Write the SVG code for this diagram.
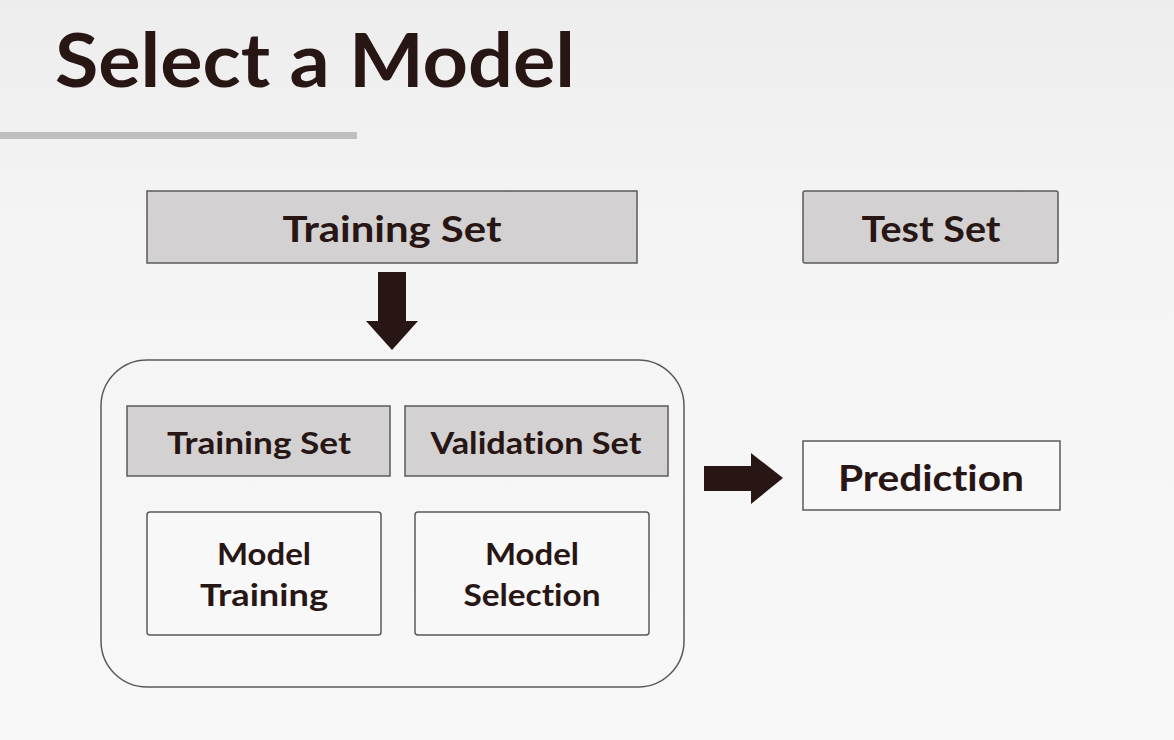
<svg xmlns="http://www.w3.org/2000/svg" width="1174" height="740" viewBox="0 0 1174 740">
<defs>
<linearGradient id="bg" x1="0" y1="0" x2="0" y2="1">
<stop offset="0" stop-color="#ededed"/>
<stop offset="0.3" stop-color="#f4f4f4"/>
<stop offset="1" stop-color="#f8f8f8"/>
</linearGradient>
</defs>
<style>
text{font-family:"Lato","Noto Sans",sans-serif;font-weight:bold;fill:#281615;text-anchor:middle;font-variant-ligatures:none}
.gray{fill:#d3d1d1;stroke:#5a5a5a;stroke-width:1.5}
.white{fill:#f8f8f8;stroke:#5a5a5a;stroke-width:1.5}
.arrow{fill:#281615}
</style>
<rect x="0" y="0" width="1174" height="740" fill="url(#bg)"/>
<text x="55" y="87" font-size="75" style="text-anchor:start" textLength="520" lengthAdjust="spacingAndGlyphs">Select a Model</text>
<rect x="0" y="132" width="357" height="7" fill="#bfbfbf"/>
<g id="training-set">
<rect class="gray" x="147" y="191" width="490" height="72"/>
<text x="392" y="242" font-size="37" textLength="219" lengthAdjust="spacingAndGlyphs">Training Set</text>
</g>
<g id="test-set">
<rect class="gray" x="803" y="191" width="255" height="72" rx="2"/>
<text x="931" y="242" font-size="37" textLength="139" lengthAdjust="spacingAndGlyphs">Test Set</text>
</g>
<g id="container">
<rect fill="none" stroke="#5a5a5a" stroke-width="1.5" x="101" y="360" width="583" height="327" rx="46"/>
</g>
<g id="inner-training-set">
<rect class="gray" x="127" y="406" width="263" height="70"/>
<text x="259" y="454" font-size="30" textLength="184" lengthAdjust="spacingAndGlyphs">Training Set</text>
</g>
<g id="validation-set">
<rect class="gray" x="405" y="406" width="263" height="70"/>
<text x="536" y="454" font-size="30" textLength="211" lengthAdjust="spacingAndGlyphs">Validation Set</text>
</g>
<g id="model-training">
<rect class="white" x="147" y="512" width="234" height="123" rx="3"/>
<text x="264" y="565" font-size="30" textLength="94" lengthAdjust="spacingAndGlyphs">Model</text>
<text x="264" y="606" font-size="30" textLength="128" lengthAdjust="spacingAndGlyphs">Training</text>
</g>
<g id="model-selection">
<rect class="white" x="415" y="512" width="234" height="123" rx="3"/>
<text x="532" y="565" font-size="30" textLength="94" lengthAdjust="spacingAndGlyphs">Model</text>
<text x="532" y="606" font-size="30" textLength="137" lengthAdjust="spacingAndGlyphs">Selection</text>
</g>
<g id="prediction">
<rect class="white" x="803" y="441" width="257" height="69"/>
<text x="931" y="491" font-size="37" textLength="186" lengthAdjust="spacingAndGlyphs">Prediction</text>
</g>
<g id="connectors">
<polygon class="arrow" points="378,272 406,272 406,321 418,321 392,350 366,321 378,321"/>
<polygon class="arrow" points="704,466 751,466 751,453 783,478 751,504 751,491 704,491"/>
</g>
</svg>
